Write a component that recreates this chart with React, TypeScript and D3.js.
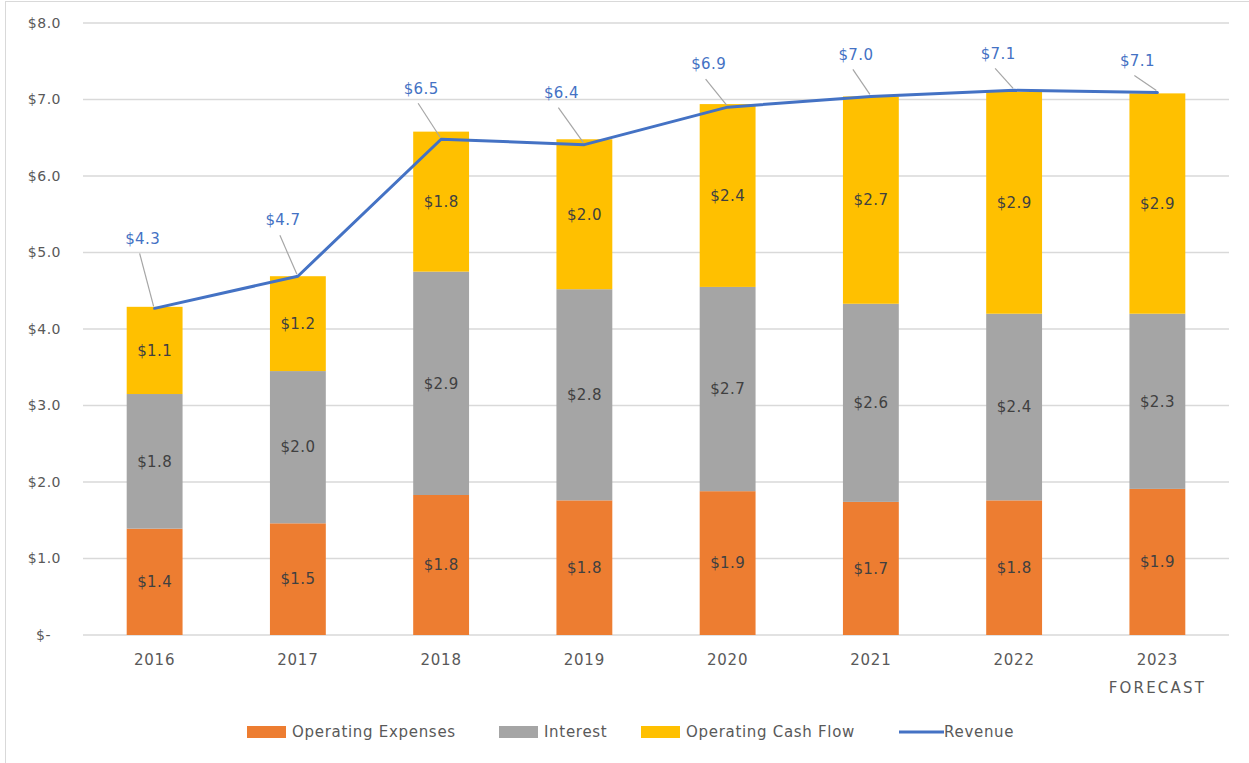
import React from "react";
import * as d3 from "d3";

const categories = ["2016", "2017", "2018", "2019", "2020", "2021", "2022", "2023"];
const categorySubLabels = ["", "", "", "", "", "", "", "FORECAST"];
const operatingExpenses = [1.39, 1.46, 1.83, 1.76, 1.88, 1.74, 1.76, 1.91];
const interest = [1.76, 1.99, 2.92, 2.76, 2.67, 2.59, 2.44, 2.29];
const operatingCashFlow = [1.14, 1.24, 1.83, 1.96, 2.39, 2.71, 2.9, 2.88];
const revenue = [4.27, 4.69, 6.48, 6.41, 6.9, 7.04, 7.12, 7.09];
const yTicks = [0, 1, 2, 3, 4, 5, 6, 7, 8];
const seriesNames = ["Operating Expenses", "Interest", "Operating Cash Flow"];
const lineName = "Revenue";
// label placement offsets (px) for revenue labels relative to point
const revLabelOffsets: [number, number][] = [
  [-12, -70], [-15, -56], [-20, -51], [-23, -52], [-19, -43], [-15, -42], [-16, -37], [-20, -32],
];

const colors = ["#ED7D31", "#A5A5A5", "#FFC000"];
const lineColor = "#4472C4";
const FONT = "'DejaVu Sans', Verdana, sans-serif";

export default function App() {
  const W = 1249, H = 763;
  const left = 83, right = 1229, top = 23, bottom = 635;
  const x = d3.scaleBand<string>().domain(categories).range([left, right]).paddingInner(0.61).paddingOuter(0.305);
  const y = d3.scaleLinear().domain([0, 8]).range([bottom, top]);

  const rows = categories.map((c, i) => ({
    cat: c,
    s0: operatingExpenses[i],
    s1: interest[i],
    s2: operatingCashFlow[i],
  }));
  const stack = d3.stack<any>().keys(["s0", "s1", "s2"])(rows);

  const cx = (c: string) => (x(c) as number) + x.bandwidth() / 2;
  const line = d3.line<number>().x((_, i) => cx(categories[i])).y((v) => y(v));

  const fmtTick = (v: number) => (v === 0 ? "$-" : "$" + v.toFixed(1));
  const fmt = (v: number) => "$" + v.toFixed(1);

  const legendItems = [
    { name: seriesNames[0], type: "rect", color: colors[0], x: 247 },
    { name: seriesNames[1], type: "rect", color: colors[1], x: 499 },
    { name: seriesNames[2], type: "rect", color: colors[2], x: 641 },
    { name: lineName, type: "line", color: lineColor, x: 899 },
  ];

  return (
    <div style={{ position: "absolute", left: 0, top: 0 }}>
      <svg width={W} height={H} style={{ display: "block", fontFamily: FONT }}>
        <rect x={0} y={0} width={W} height={H} fill="#fff" />
        <rect x={5.5} y={1.5} width={W + 10} height={H + 10} fill="none" stroke="#D9D9D9" strokeWidth={1} />
        {yTicks.map((t) => (
          <g key={t}>
            <line x1={left} x2={right} y1={y(t)} y2={y(t)} stroke="#D9D9D9" strokeWidth={1.3} />
            <text
              x={t === 0 ? 51 : 61}
              y={y(t)}
              dy="0.35em"
              textAnchor="end"
              fontSize={14}
              letterSpacing={0.5}
              fill="#595959"
            >
              {fmtTick(t)}
            </text>
          </g>
        ))}
        {stack.map((layer, li) => (
          <g key={li}>
            {layer.map((d, i) => (
              <rect
                key={i}
                x={x(categories[i])}
                width={x.bandwidth()}
                y={y(d[1])}
                height={y(d[0]) - y(d[1])}
                fill={colors[li]}
              />
            ))}
            {layer.map((d, i) => (
              <text
                key={"t" + i}
                x={cx(categories[i])}
                y={(y(d[0]) + y(d[1])) / 2}
                dy="0.35em"
                textAnchor="middle"
                fontSize={15}
                letterSpacing={0.4}
                fill="#404040"
              >
                {fmt(d[1] - d[0])}
              </text>
            ))}
          </g>
        ))}
        {categories.map((c, i) => (
          <g key={c}>
            <text x={cx(c)} y={660} dy="0.35em" textAnchor="middle" fontSize={15} letterSpacing={0.8} fill="#595959">
              {c}
            </text>
            {categorySubLabels[i] && (
              <text x={cx(c)} y={688} dy="0.35em" textAnchor="middle" fontSize={15} letterSpacing={2.2} fill="#595959">
                {categorySubLabels[i]}
              </text>
            )}
          </g>
        ))}
        <path d={line(revenue) || ""} fill="none" stroke={lineColor} strokeWidth={3} strokeLinejoin="round" strokeLinecap="round" />
        {revenue.map((v, i) => {
          const px = cx(categories[i]);
          const py = y(v);
          const [dx, dy] = revLabelOffsets[i];
          const lx = px + dx;
          const ly = py + dy;
          return (
            <g key={"r" + i}>
              <line x1={lx - 3} y1={ly + 15} x2={px - 1} y2={py - 2} stroke="#A6A6A6" strokeWidth={1.2} />
              <text x={lx} y={ly} dy="0.35em" textAnchor="middle" fontSize={15} letterSpacing={0.4} fill={lineColor}>
                {fmt(v)}
              </text>
            </g>
          );
        })}
        {legendItems.map((it) => (
          <g key={it.name}>
            {it.type === "rect" ? (
              <rect x={it.x} y={726} width={39} height={12} fill={it.color} />
            ) : (
              <line x1={it.x} x2={it.x + 45} y1={732} y2={732} stroke={it.color} strokeWidth={3} />
            )}
            <text x={it.x + 45} y={732} dy="0.35em" fontSize={15} letterSpacing={0.7} fill="#595959">
              {it.name}
            </text>
          </g>
        ))}
      </svg>
    </div>
  );
}
